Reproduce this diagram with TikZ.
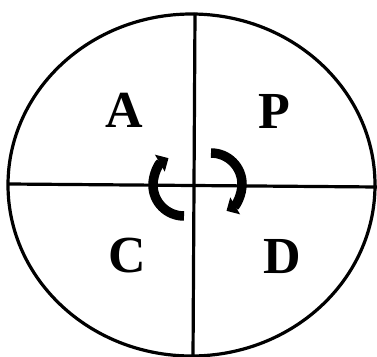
\documentclass[tikz,border=0pt]{standalone}
\usepackage{fontspec}
\setmainfont{Liberation Serif}
\usetikzlibrary{arrows.meta}
\begin{document}
\begin{tikzpicture}[x=1pt,y=-1pt,
  frame/.style={line width=3.2pt},
  letter/.style={font=\fontsize{52}{52}\selectfont\bfseries, inner sep=0pt},
  cyclearrow/.style={line width=9.5pt, -{Triangle[width=19pt,length=10pt]}}]
\useasboundingbox (0,0) rectangle (377,356);
\clip (0,0) rectangle (377,356);
\fill[white] (0,0) rectangle (377,356);
\draw[frame] (191.5,185) ellipse[x radius=183.5, y radius=171];
\coordinate (vt) at (195,13);
\coordinate (vb) at (193,358);
\coordinate (hl) at (9,184);
\coordinate (hr) at (378,187);
\draw[frame] (vt) -- (vb);
\draw[frame] (hl) -- (hr);
\node[letter] (A) at (124,110) {A};
\node[letter] (P) at (274,111) {P};
\node[letter] (C) at (127,256) {C};
\node[letter] (D) at (282,257) {D};
\coordinate (ls) at (184,216);
\coordinate (rs) at (211,153);
\draw[cyclearrow] (ls) arc[start angle=90, end angle=240, radius=31];
\draw[cyclearrow] (rs) arc[start angle=270, end angle=420, radius=31];
\end{tikzpicture}
\end{document}
